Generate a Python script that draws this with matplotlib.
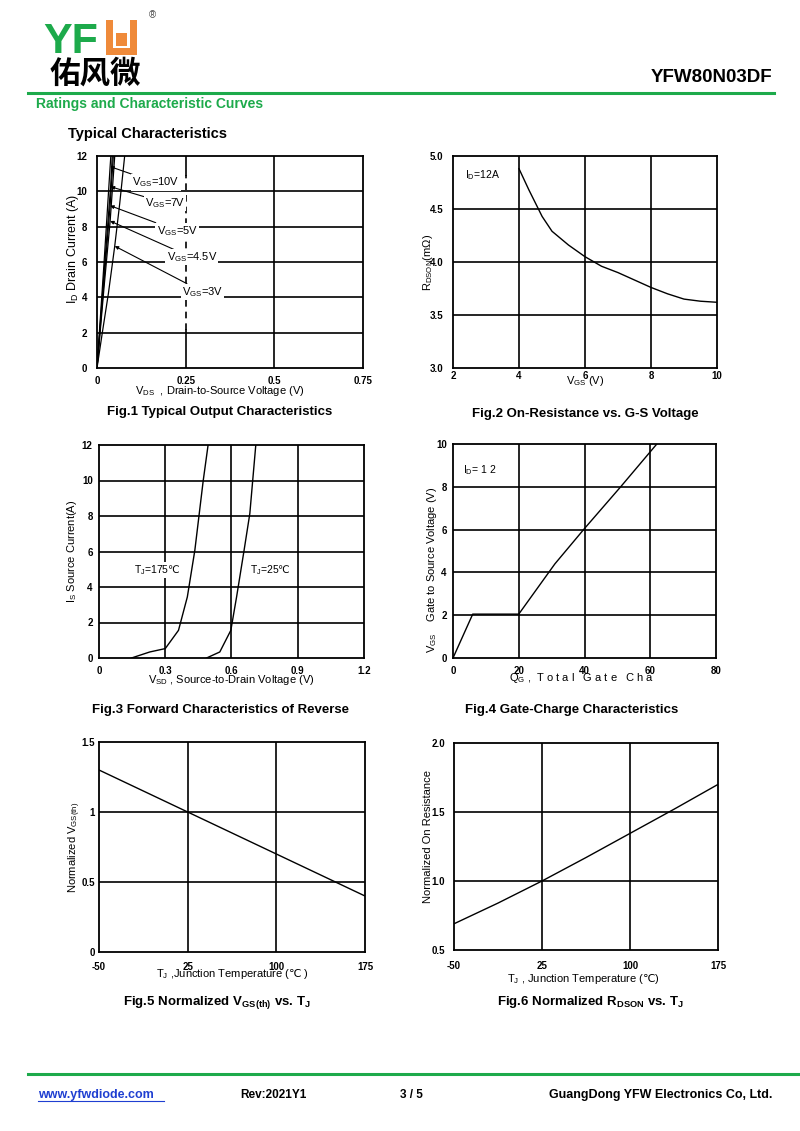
import matplotlib
matplotlib.use("Agg")
import matplotlib.pyplot as plt
from matplotlib.patches import Rectangle
from matplotlib.lines import Line2D

plt.rcParams['font.family'] = ['Liberation Sans', 'DejaVu Sans', 'Noto Sans CJK SC']
plt.rcParams['mathtext.fontset'] = 'custom'
plt.rcParams['mathtext.rm'] = 'Liberation Sans'
plt.rcParams['mathtext.it'] = 'Liberation Sans'
plt.rcParams['mathtext.sf'] = 'DejaVu Sans'

# Fig.1 output characteristics (VDS in V, ID in A)
vgs_labels = ["10V", "7V", "5V", "4.5V", "3V"]
vds_10 = [0, 0.01, 0.02, 0.037, 0.039]
id_10 = [0, 3.0, 6.0, 11.4, 12]
vds_7 = [0, 0.01, 0.02, 0.0385, 0.043]
id_7 = [0, 2.7, 5.4, 10.3, 12]
vds_5 = [0, 0.01, 0.02, 0.037, 0.046]
id_5 = [0, 2.5, 5.0, 9.2, 12]
vds_45 = [0, 0.01, 0.02, 0.037, 0.05]
id_45 = [0, 2.3, 4.6, 8.3, 12]
vds_3 = [0, 0.015, 0.032, 0.05, 0.064, 0.078]
id_3 = [0, 2.0, 4.2, 6.9, 9.3, 12]
label_pos = [(0.099, 10.5), (0.135, 9.35), (0.168, 7.77), (0.196, 6.26), (0.239, 4.32)]
arrow_tip = [(0.037, 11.4), (0.0385, 10.26), (0.037, 9.19), (0.037, 8.32), (0.05, 6.9)]

# Fig.2 on-resistance vs VGS
vgs2 = [4, 4.3, 4.7, 5, 5.5, 6, 6.5, 7, 7.5, 8, 8.5, 9, 9.5, 10]
rdson = [4.88, 4.68, 4.43, 4.29, 4.16, 4.05, 3.96, 3.90, 3.83, 3.76, 3.70, 3.65, 3.63, 3.62]

# Fig.3 body diode forward
vsd_175 = [0.147, 0.23, 0.30, 0.36, 0.40, 0.434, 0.472, 0.494]
is_175 = [0, 0.34, 0.53, 1.56, 3.44, 6.07, 10.0, 12]
vsd_25 = [0.487, 0.547, 0.597, 0.623, 0.657, 0.683, 0.71]
is_25 = [0, 0.34, 1.56, 3.44, 6.07, 8.14, 12]

# Fig.4 gate charge
qg = [0, 6, 20, 31, 40, 51, 62]
vgs4 = [0, 2.05, 2.05, 4.4, 6.05, 8.0, 10]

# Fig.5 normalized VGS(th)
tj5 = [-50, 25, 100, 175]
vth = [1.3, 1.0, 0.7, 0.4]

# Fig.6 normalized RDS(on)
tj6 = [-50, -12.5, 25, 62.5, 100, 137.5, 175]
rn = [0.69, 0.84, 1.0, 1.17, 1.345, 1.52, 1.70]

W, H = 800, 1131
fig = plt.figure(figsize=(W / 100, H / 100), dpi=100)


def px(x, y):
    return x / W, 1 - y / H


def make_ax(l, t, r, b):
    ax = fig.add_axes([l / W, 1 - b / H, (r - l) / W, (b - t) / H])
    for s in ax.spines.values():
        s.set_linewidth(1.3)
    ax.tick_params(length=0, labelsize=7)
    return ax


def grid(ax, xs, ys):
    for x in xs:
        ax.axvline(x, color='black', lw=1.2, zorder=1)
    for y in ys:
        ax.axhline(y, color='black', lw=1.2, zorder=1)


def ticks(ax, xt, xl, yt, yl, xpad, ypad):
    ax.set_xticks(xt)
    ax.set_xticklabels(xl, fontsize=7, fontweight='bold')
    ax.set_yticks(yt)
    ax.set_yticklabels(yl, fontsize=7, fontweight='bold')
    ax.tick_params(axis='x', pad=xpad)
    ax.tick_params(axis='y', pad=ypad)


degc = r"$\mathsf{℃}$"
box = dict(boxstyle='square,pad=0.1', fc='white', ec='none')

# ---- Fig.1
ax1 = make_ax(97, 156, 363, 368)
ax1.set_xlim(0, 0.75)
ax1.set_ylim(0, 12)
grid(ax1, [0.5], [2, 4, 6, 8, 10])
ax1.plot([0.25, 0.25], [10.9, 12], color='black', lw=1.2, zorder=1)
ax1.plot([0.25, 0.25], [0, 2.15], color='black', lw=1.2, zorder=1)
ax1.plot([0.25, 0.25], [2.15, 10.9], color='black', lw=1.2, zorder=1, dashes=(4, 3))
ticks(ax1, [0, 0.25, 0.5, 0.75], ["0", "0.25", "0.5", "0.75"],
      [0, 2, 4, 6, 8, 10, 12], ["0", "2", "4", "6", "8", "10", "12"], 6, 7)
for xs, ys in [(vds_10, id_10), (vds_7, id_7), (vds_5, id_5), (vds_45, id_45), (vds_3, id_3)]:
    ax1.plot(xs, ys, color='black', lw=0.9, zorder=3)
for lab, (tx, ty), (ax_, ay_) in zip(vgs_labels, label_pos, arrow_tip):
    ax1.annotate(r"$\mathregular{V_{GS}}$=" + lab, xy=(ax_, ay_), xytext=(tx, ty),
                 fontsize=8, va='center', ha='left', zorder=4, bbox=box,
                 arrowprops=dict(arrowstyle='-|>', color='black', lw=0.8,
                                 mutation_scale=5, shrinkA=0, shrinkB=0))
ax1.set_xlabel(r"$\mathregular{V_{DS}}$  , Drain-to-Source Voltage (V)", fontsize=8)
ax1.xaxis.set_label_coords(0.46, -0.075)
ax1.set_ylabel(r"$\mathregular{I_D}$ Drain Current (A)", fontsize=9)
ax1.yaxis.set_label_coords(-0.06, 0.56)

# ---- Fig.2
ax2 = make_ax(453, 156, 717, 368)
ax2.set_xlim(2, 10)
ax2.set_ylim(3, 5)
grid(ax2, [4, 6, 8], [3.5, 4.0, 4.5])
ticks(ax2, [2, 4, 6, 8, 10], ["2", "4", "6", "8", "10"],
      [3.0, 3.5, 4.0, 4.5, 5.0], ["3.0", "3.5", "4.0", "4.5", "5.0"], 2, 7)
ax2.plot(vgs2, rdson, color='black', lw=1.0, zorder=3)
ax2.text(2.37, 4.82, r"$\mathregular{I_D}$=12A", fontsize=7.5, va='center')
ax2.set_xlabel(r"$\mathregular{V_{GS}}$ (V)", fontsize=8)
ax2.xaxis.set_label_coords(0.5, -0.03)
ax2.set_ylabel(r"$\mathregular{R_{DSON}}$(m$\Omega$)", fontsize=8)
ax2.yaxis.set_label_coords(-0.067, 0.5)

# ---- Fig.3
ax3 = make_ax(99, 445, 364, 658)
ax3.set_xlim(0, 1.2)
ax3.set_ylim(0, 12)
grid(ax3, [0.3, 0.6, 0.9], [2, 4, 6, 8, 10])
ticks(ax3, [0, 0.3, 0.6, 0.9, 1.2], ["0", "0.3", "0.6", "0.9", "1.2"],
      [0, 2, 4, 6, 8, 10, 12], ["0", "2", "4", "6", "8", "10", "12"], 6, 4.5)
ax3.plot(vsd_175, is_175, color='black', lw=1.0, zorder=3)
ax3.plot(vsd_25, is_25, color='black', lw=1.0, zorder=3)
ax3.text(0.16, 4.94, r"$\mathregular{T_J}$=175" + degc, fontsize=7.5, va='center', zorder=4, bbox=box)
ax3.text(0.686, 4.94, r"$\mathregular{T_J}$=25" + degc, fontsize=7.5, va='center', zorder=4, bbox=box)
ax3.set_xlabel(r"$\mathregular{V_{SD}}$ , Source-to-Drain Voltage (V)", fontsize=8)
ax3.xaxis.set_label_coords(0.50, -0.072)
ax3.set_ylabel(r"$\mathregular{I_S}$ Source Current(A)", fontsize=8)
ax3.yaxis.set_label_coords(-0.076, 0.5)

# ---- Fig.4
ax4 = make_ax(453, 444, 716, 658)
ax4.set_xlim(0, 80)
ax4.set_ylim(0, 10)
grid(ax4, [20, 40, 60], [2, 4, 6, 8])
ticks(ax4, [0, 20, 40, 60, 80], ["0", "20", "40", "60", "80"],
      [0, 2, 4, 6, 8, 10], ["0", "2", "4", "6", "8", "10"], 6, 4.5)
ax4.plot(qg, vgs4, color='black', lw=1.0, zorder=3)
ax4.text(3, 8.8, r"$\mathregular{I_D}$= 1 2", fontsize=7.5, va='center')
ax4.set_xlabel(r"$\mathregular{Q_G}$ ,  T o t a l   G a t e   C h a", fontsize=8)
ax4.xaxis.set_label_coords(0.49, -0.06)
ax4.set_ylabel(r"$\mathregular{V_{GS}}$    Gate to Source Voltage (V)", fontsize=8)
ax4.yaxis.set_label_coords(-0.055, 0.41)

# ---- Fig.5
ax5 = make_ax(99, 742, 365, 952)
ax5.set_xlim(-50, 175)
ax5.set_ylim(0, 1.5)
grid(ax5, [25, 100], [0.5, 1.0])
ticks(ax5, [-50, 25, 100, 175], ["-50", "25", "100", "175"],
      [0, 0.5, 1.0, 1.5], ["0", "0.5", "1", "1.5"], 7, 3)
ax5.plot(tj5, vth, color='black', lw=1.0, zorder=3)
ax5.set_xlabel(r"$\mathregular{T_J}$ ,Junction Temperature (" + degc + " )", fontsize=8)
ax5.xaxis.set_label_coords(0.50, -0.07)
ax5.set_ylabel(r"Normalized $\mathregular{V_{GS(th)}}$", fontsize=8)
ax5.yaxis.set_label_coords(-0.059, 0.5)

# ---- Fig.6
ax6 = make_ax(454, 743, 718, 950)
ax6.set_xlim(-50, 175)
ax6.set_ylim(0.5, 2.0)
grid(ax6, [25, 100], [1.0, 1.5])
ticks(ax6, [-50, 25, 100, 175], ["-50", "25", "100", "175"],
      [0.5, 1.0, 1.5, 2.0], ["0.5", "1.0", "1.5", "2.0"], 8, 6.5)
ax6.plot(tj6, rn, color='black', lw=1.0, zorder=3)
ax6.set_xlabel(r"$\mathregular{T_J}$ , Junction Temperature (" + degc + ")", fontsize=8)
ax6.xaxis.set_label_coords(0.49, -0.105)
ax6.set_ylabel("Normalized On Resistance", fontsize=8)
ax6.yaxis.set_label_coords(-0.08, 0.55)

# ---- figure captions
cap = dict(fontsize=9.5, fontweight='bold', ha='center', va='center')
fig.text(*px(220, 412), "Fig.1 Typical Output Characteristics", **cap)
fig.text(*px(585, 414), "Fig.2 On-Resistance vs. G-S Voltage", **cap)
fig.text(*px(220, 710), "Fig.3 Forward Characteristics of Reverse", **cap)
fig.text(*px(572, 710), "Fig.4 Gate-Charge Characteristics", **cap)
fig.text(*px(217, 1002), r"Fig.5 Normalized $\mathregular{V_{GS(th)}}$ vs. $\mathregular{T_J}$", **cap)
fig.text(*px(590, 1002), r"Fig.6 Normalized $\mathregular{R_{DSON}}$ vs. $\mathregular{T_J}$", **cap)

# ---- header
green = '#1daa4b'
orange = '#ef8a3a'
fig.text(*px(43, 42), "YF", fontsize=31, fontweight='bold', color=green, va='center', ha='left')


def rect(x, y, w, h, c):
    l, b = px(x, y + h)
    fig.patches.append(Rectangle((l, b), w / W, h / H, transform=fig.transFigure, fc=c, ec='none'))


rect(106, 20, 31, 35, orange)
rect(113, 20, 17, 28, 'white')
rect(115.5, 33, 12, 12.5, orange)
fig.text(*px(152, 15), "®", fontsize=7, color='#444444', ha='center', va='center')
fig.text(*px(95, 74), "佑风微", fontsize=22, fontweight='bold', ha='center', va='center',
         family=['Noto Sans CJK SC'])
x0, y0 = px(28, 93)
x1, _ = px(774, 93)
fig.add_artist(Line2D([x0, x1], [y0, y0], color=green, lw=2.2, transform=fig.transFigure))
fig.text(*px(772, 78), "YFW80N03DF", fontsize=13.5, fontweight='bold', ha='right', va='center')
fig.text(*px(36, 104), "Ratings and Characteristic Curves", fontsize=10, fontweight='bold',
         color=green, ha='left', va='center')
fig.text(*px(68, 134), "Typical Characteristics", fontsize=10.5, fontweight='bold',
         ha='left', va='center')

# ---- footer
x0, y0 = px(28, 1074)
x1, _ = px(800, 1074)
fig.add_artist(Line2D([x0, x1], [y0, y0], color=green, lw=2.2, transform=fig.transFigure))
fig.text(*px(38, 1095), "www.yfwdiode.com", fontsize=9, fontweight='bold', color='#1f3fd1',
         ha='left', va='center')
x0, y0 = px(38, 1101)
x1, _ = px(164, 1101)
fig.add_artist(Line2D([x0, x1], [y0, y0], color='#1f3fd1', lw=0.8, transform=fig.transFigure))
fig.text(*px(240, 1095), "Rev:2021Y1", fontsize=8.5, fontweight='bold', ha='left', va='center')
fig.text(*px(400, 1095), "3 / 5", fontsize=8.5, fontweight='bold', ha='left', va='center')
fig.text(*px(772, 1095), "GuangDong YFW Electronics Co, Ltd.", fontsize=9, fontweight='bold',
         ha='right', va='center')

fig.savefig("out.png", dpi=100)
